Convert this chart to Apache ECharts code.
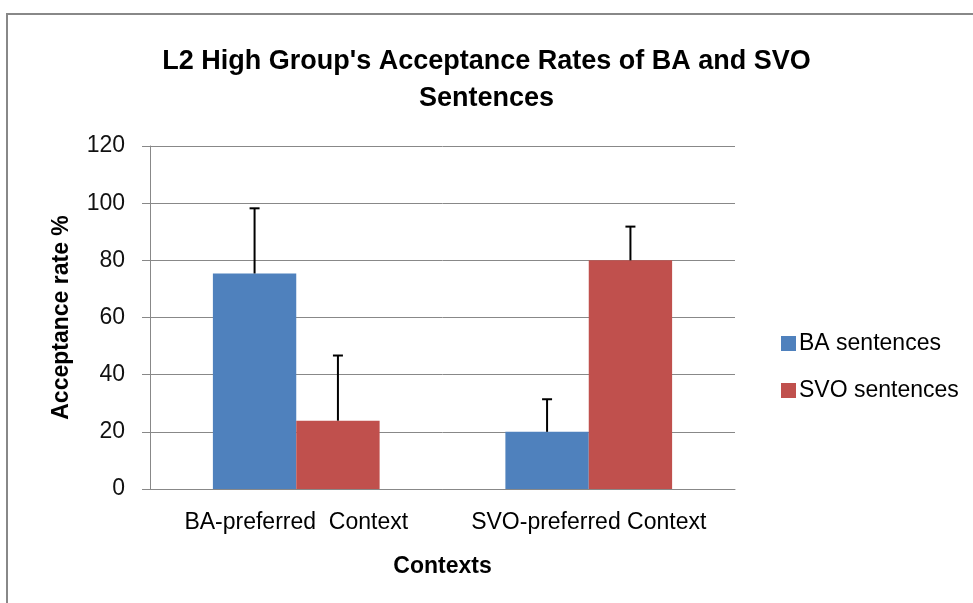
<!DOCTYPE html>
<html>
<head>
<meta charset="utf-8">
<script src="https://cdn.jsdelivr.net/npm/echarts@6/dist/echarts.min.js"></script>
<style>
  html, body { margin: 0; padding: 0; background: #fff; }
  #chart { width: 973px; height: 603px; }
</style>
</head>
<body>
<div id="chart"></div>
<script>
// 数据
var categories = ['BA-preferred  Context', 'SVO-preferred Context'];
var seriesNames = ['BA sentences', 'SVO sentences'];
var baValues = [75.4, 20];
var svoValues = [23.9, 80];
var baErrTop = [98.2, 31.4];
var svoErrTop = [46.7, 91.8];
var yTicks = { min: 0, max: 120, interval: 20 };

var myChart = echarts.init(document.getElementById('chart'));
var fontFamily = '"Liberation Sans", Arial, sans-serif';
var barPct = 0.285;

// 误差线（只画上半部分）
function errorSeries(name, values, tops, side) {
    var data = [];
    for (var i = 0; i < values.length; i++) {
        data.push([i, values[i], tops[i]]);
    }
    return {
        type: 'custom',
        name: name,
        z: 10,
        silent: true,
        encode: { x: 0, y: [1, 2] },
        renderItem: function (params, api) {
            var band = api.size([1, 0])[0];
            var base = api.coord([api.value(0), api.value(1)]);
            var top = api.coord([api.value(0), api.value(2)]);
            var x = base[0] + side * band * barPct / 2;
            var style = { stroke: '#000', lineWidth: 2 };
            return {
                type: 'group',
                children: [
                    { type: 'line', shape: { x1: x, y1: base[1], x2: x, y2: top[1] }, style: style },
                    { type: 'line', shape: { x1: x - 5, y1: top[1], x2: x + 5, y2: top[1] }, style: style }
                ]
            };
        },
        data: data
    };
}

var option = {
    animation: false,
    color: ['#4F81BD', '#C0504D'],
    graphic: [{
        type: 'polyline',
        shape: { points: [[7, 610], [7, 14], [980, 14]] },
        style: { stroke: '#888', lineWidth: 2, fill: null },
        silent: true
    }],
    title: {
        text: "L2 High Group's Acceptance Rates of BA and SVO\nSentences",
        left: 'center',
        top: 38,
        textStyle: { fontFamily: fontFamily, fontSize: 27, fontWeight: 'bold', color: '#000', lineHeight: 37 }
    },
    legend: {
        orient: 'vertical',
        left: 776,
        top: 327,
        itemWidth: 15,
        itemHeight: 15,
        itemGap: 24,
        icon: 'rect',
        data: seriesNames,
        textStyle: { fontFamily: fontFamily, fontSize: 23, color: '#000', padding: [0, 0, 0, -2] }
    },
    grid: { left: 150, right: 238, top: 146, bottom: 114 },
    xAxis: {
        type: 'category',
        data: categories,
        name: 'Contexts',
        nameLocation: 'middle',
        nameGap: 66,
        nameTextStyle: { fontFamily: fontFamily, fontSize: 23, fontWeight: 'bold', color: '#000' },
        axisLine: { lineStyle: { color: '#888', width: 1 } },
        axisTick: { show: false },
        axisLabel: { fontFamily: fontFamily, fontSize: 23, color: '#000', margin: 22, interval: 0, hideOverlap: false }
    },
    yAxis: {
        type: 'value',
        min: yTicks.min,
        max: yTicks.max,
        interval: yTicks.interval,
        name: 'Acceptance rate %',
        nameLocation: 'middle',
        nameGap: 77,
        nameTextStyle: { fontFamily: fontFamily, fontSize: 23, fontWeight: 'bold', color: '#000' },
        axisLine: { show: true, lineStyle: { color: '#888', width: 1 } },
        axisTick: { show: true, length: 8, lineStyle: { color: '#888' } },
        splitLine: { lineStyle: { color: '#888', width: 1 } },
        axisLabel: { fontFamily: fontFamily, fontSize: 23, color: '#111', margin: 25 }
    },
    series: [
        { name: seriesNames[0], type: 'bar', data: baValues, barWidth: '28.5%', barGap: '0%' },
        { name: seriesNames[1], type: 'bar', data: svoValues, barWidth: '28.5%', barGap: '0%' },
        errorSeries('BA err', baValues, baErrTop, -1),
        errorSeries('SVO err', svoValues, svoErrTop, 1)
    ]
};

myChart.setOption(option);
</script>
</body>
</html>
